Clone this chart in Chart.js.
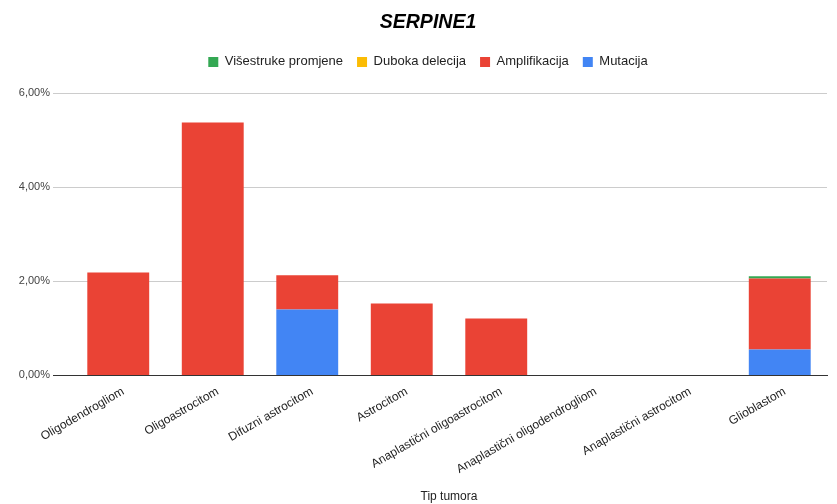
<!DOCTYPE html>
<html>
<head>
<meta charset="utf-8">
<script src="https://cdn.jsdelivr.net/npm/chart.js@4"></script>
<style>
  body { margin: 0; background: #fff; }
  #wrap { width: 837px; height: 504px; }
</style>
</head>
<body>
<div id="wrap"><canvas id="serpineChart" width="837" height="504"></canvas></div>
<script>
const tumorTypes = ['Oligodendrogliom', 'Oligoastrocitom', 'Difuzni astrocitom', 'Astrocitom',
    'Anaplastični oligoastrocitom', 'Anaplastični oligodendrogliom', 'Anaplastični astrocitom', 'Glioblastom'];

// percent of cases
const mutacija      = [0,    0,    1.40, 0,    0,    0, 0, 0.55];
const amplifikacija = [2.19, 5.38, 0.73, 1.53, 1.21, 0, 0, 1.51];
const dubokaDelecija = [0,   0,    0,    0,    0,    0, 0, 0];
const visestruke    = [0,    0,    0,    0,    0,    0, 0, 0.05];

const yTicks = [0, 2, 4, 6];

Chart.defaults.font.family = "'Liberation Sans', Arial, sans-serif";
Chart.defaults.color = '#222';

// more room under the legend, and title + legend centred a little right of the canvas middle
const headerTweaks = {
    id: 'headerTweaks',
    beforeInit(chart) {
        const fit = chart.legend.fit;
        chart.legend.fit = function () {
            fit.bind(chart.legend)();
            this.height += 15;
        };
    },
    afterLayout(chart) {
        const shift = 428 - (chart.legend.left + chart.legend.right) / 2;
        chart.legend.left += shift;
        chart.legend.right += shift;
        chart.titleBlock.left += shift;
        chart.titleBlock.right += shift;
    }
};

const ctx = document.getElementById('serpineChart').getContext('2d');
const chart = new Chart(ctx, {
    type: 'bar',
    data: {
        labels: tumorTypes,
        datasets: [
            { label: 'Mutacija', data: mutacija, backgroundColor: '#4285f4' },
            { label: 'Amplifikacija', data: amplifikacija, backgroundColor: '#ea4335' },
            { label: 'Duboka delecija', data: dubokaDelecija, backgroundColor: '#fbbc04' },
            { label: 'Višestruke promjene', data: visestruke, backgroundColor: '#34a853' }
        ]
    },
    plugins: [headerTweaks],
    options: {
        responsive: false,
        animation: false,
        layout: { padding: { left: 10, right: 10, top: 4, bottom: 0 } },
        datasets: { bar: { categoryPercentage: 1, barPercentage: 0.655 } },
        plugins: {
            title: {
                display: true,
                text: 'SERPINE1',
                font: { size: 19.5, weight: 'bold', style: 'italic' },
                color: '#000',
                padding: { top: 7, bottom: 7 }
            },
            legend: {
                reverse: true,
                labels: {
                    usePointStyle: true,
                    pointStyle: 'rect',
                    boxWidth: 10,
                    boxHeight: 10,
                    padding: 14,
                    font: { size: 13 },
                    color: '#222'
                }
            },
            tooltip: { enabled: false }
        },
        scales: {
            x: {
                stacked: true,
                grid: { display: false },
                border: { color: '#333' },
                ticks: {
                    minRotation: 30,
                    maxRotation: 30,
                    autoSkip: false,
                    padding: 1,
                    labelOffset: 5,
                    font: { size: 12 },
                    color: '#222'
                },
                title: {
                    display: true,
                    text: 'Tip tumora',
                    font: { size: 12 },
                    color: '#222',
                    padding: { top: 12, bottom: 0 }
                }
            },
            y: {
                stacked: true,
                min: 0,
                max: 6,
                afterBuildTicks: axis => { axis.ticks = yTicks.map(v => ({ value: v })); },
                afterFit: axis => { axis.width = 61; },
                grid: {
                    color: c => (c.tick && c.tick.value === 0 ? '#333' : '#cccccc'),
                    tickLength: 18,
                    drawTicks: true
                },
                border: { display: false },
                ticks: {
                    padding: 3,
                    font: { size: 11 },
                    color: '#444',
                    callback: v => v.toFixed(2).replace('.', ',') + '%'
                }
            }
        }
    }
});
</script>
</body>
</html>
